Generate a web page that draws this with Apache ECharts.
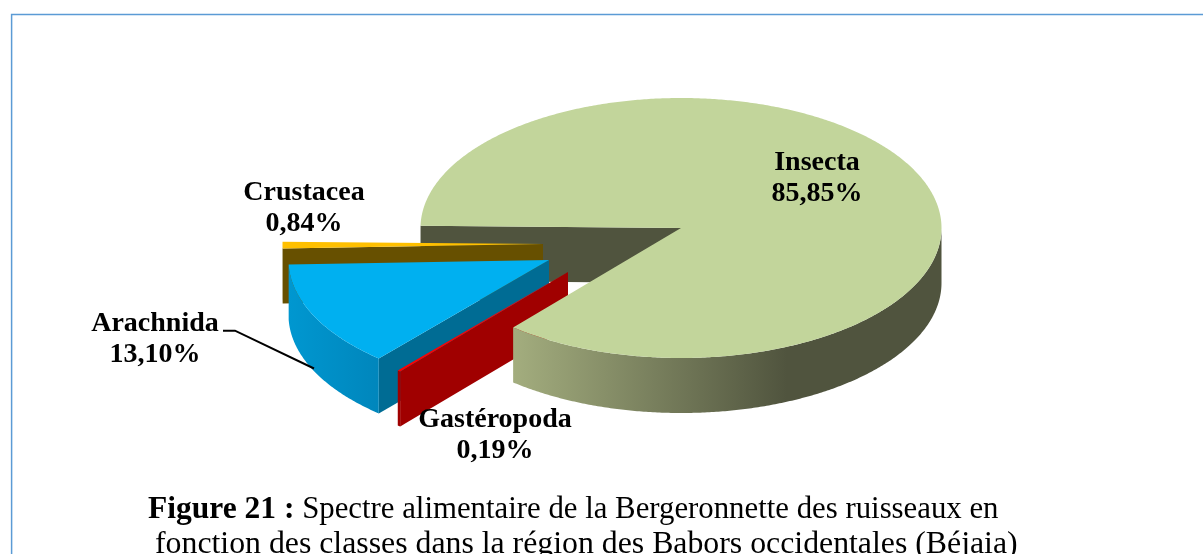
<!DOCTYPE html>
<html>
<head>
<meta charset="utf-8">
<style>html,body{margin:0;padding:0;background:#fff}#c{width:1203px;height:554px}</style>
<script src="https://cdn.jsdelivr.net/npm/echarts@6/dist/echarts.min.js"></script>
</head>
<body>
<div id="c"></div>
<script>
var categories = ['Insecta', 'Gastéropoda', 'Arachnida', 'Crustacea'];
var values = [85.85, 0.19, 13.10, 0.84];
var captionBold = 'Figure 21 :';
var captionLine1 = 'Spectre alimentaire de la Bergeronnette des ruisseaux en';
var captionLine2 = 'fonction des classes dans la région des Babors occidentales (Béjaia)';

// Layout and style of the exploded, tilted pie (kept apart from the data)
var RX = 260.5, RY = 130, DEPTH = 55, START_DEG = 181;
var SERIF = '"Liberation Serif","Times New Roman",serif';
var looks = [
  { cx: 681, cy: 228, top: '#C2D59B', cut: '#50543E', cutLevel: 0, level: 4,
    wall: ['#A3AD7E', '#50543E'], wallX: [514, 787], label: [817, 178] },
  { cx: 568, cy: 272, top: '#FF0000', cut: '#A00000', cutLevel: 3, level: 3,
    wall: ['#A00000', '#A00000'], wallX: [398, 400], label: [495, 435] },
  { cx: 549, cy: 260, top: '#00B0F0', cut: '#006C94', cutLevel: 2, level: 2,
    wall: ['#0097D0', '#0086BC'], wallX: [289, 379], label: [155, 339] },
  { cx: 543, cy: 244, top: '#FFC000', cut: '#675000', cutLevel: 1, level: 1,
    wall: ['#675000', '#675000'], wallX: [282, 284], label: [304, 208] }
];

var total = values.reduce(function (a, b) { return a + b; }, 0);
function pt(l, deg, dy) {
  var t = deg * Math.PI / 180;
  return [l.cx + RX * Math.cos(t), l.cy + RY * Math.sin(t) + (dy || 0)];
}
function arc(l, from, to, dy) {
  var n = Math.max(2, Math.ceil(Math.abs(to - from) * 2)), out = [];
  for (var i = 0; i <= n; i++) out.push(pt(l, from + (to - from) * i / n, dy));
  return out;
}
function hGrad(x0, x1, c0, c1) {
  return { type: 'linear', x: x0, y: 0, x2: x1, y2: 0, global: true,
    colorStops: [{ offset: 0, color: c0 }, { offset: 1, color: c1 }] };
}

function renderSlice(params, api) {
  var i = params.dataIndex, l = looks[i], before = 0;
  for (var k = 0; k < i; k++) before += values[k];
  var a0 = START_DEG + before / total * 360;
  var a1 = a0 + api.value(1) / total * 360;
  var kids = [];
  var apex = [l.cx, l.cy];
  // cut wall on the starting radius
  var s = pt(l, a0);
  kids.push({ type: 'polygon', z2: l.cutLevel,
    shape: { points: [apex, s, [s[0], s[1] + DEPTH], [apex[0], apex[1] + DEPTH]] },
    style: { fill: l.cut } });
  // outer wall: only the part of the rim that faces the viewer
  var vis = [];
  [[0, 180], [360, 540]].forEach(function (w) {
    var p = Math.max(a0, w[0]), q = Math.min(a1, w[1]);
    if (q > p) vis.push([p, q]);
  });
  vis.forEach(function (r) {
    var up = arc(l, r[0], r[1], 0), down = arc(l, r[1], r[0], DEPTH);
    kids.push({ type: 'polygon', z2: l.level,
      shape: { points: up.concat(down) },
      style: { fill: hGrad(l.wallX[0], l.wallX[1], l.wall[0], l.wall[1]) } });
  });
  // top face
  kids.push({ type: 'polygon', z2: l.level + 0.5,
    shape: { points: [apex].concat(arc(l, a0, a1, 0)) },
    style: { fill: l.top } });
  // label
  var pct = api.value(1).toFixed(2).replace('.', ',') + '%';
  kids.push({ type: 'text', z2: 20, x: l.label[0], y: l.label[1],
    style: { text: categories[i] + '\n' + pct, align: 'center', verticalAlign: 'middle',
      font: 'bold 28px ' + SERIF, lineHeight: 31, fill: '#000' } });
  return { type: 'group', children: kids };
}

var chart = echarts.init(document.getElementById('c'), null, { renderer: 'canvas', width: 1203, height: 554 });
chart.setOption({
  animation: false,
  backgroundColor: '#fff',
  title: [
    { left: 148, top: 494, padding: 0,
      text: '{b|' + captionBold + '} {r|' + captionLine1 + '}',
      textStyle: { fontWeight: 'normal', fontFamily: SERIF, fontSize: 31, rich: {
        b: { fontFamily: SERIF, fontWeight: 'bold', fontSize: 31.5, color: '#000' },
        r: { fontFamily: SERIF, fontWeight: 'normal', fontSize: 30.8, color: '#000' } } } },
    { left: 155, top: 529, padding: 0, text: captionLine2,
      textStyle: { fontFamily: SERIF, fontWeight: 'normal', fontSize: 31.8, color: '#000' } }
  ],
  graphic: [
    { type: 'polyline', z: 0, silent: true,
      shape: { points: [[11.6, 554], [11.6, 14.6], [1203, 14.6]] },
      style: { stroke: '#5B9BD5', lineWidth: 1.5, fill: null } },
    { type: 'polyline', z: 10, silent: true,
      shape: { points: [[223, 330.7], [235, 330.7], [314, 368.5]] },
      style: { stroke: '#000', lineWidth: 2, fill: null } }
  ],
  series: [{
    type: 'custom',
    coordinateSystem: 'none',
    renderItem: renderSlice,
    data: values.map(function (v, i) { return [i, v]; }),
    silent: true
  }]
});
</script>
</body>
</html>
